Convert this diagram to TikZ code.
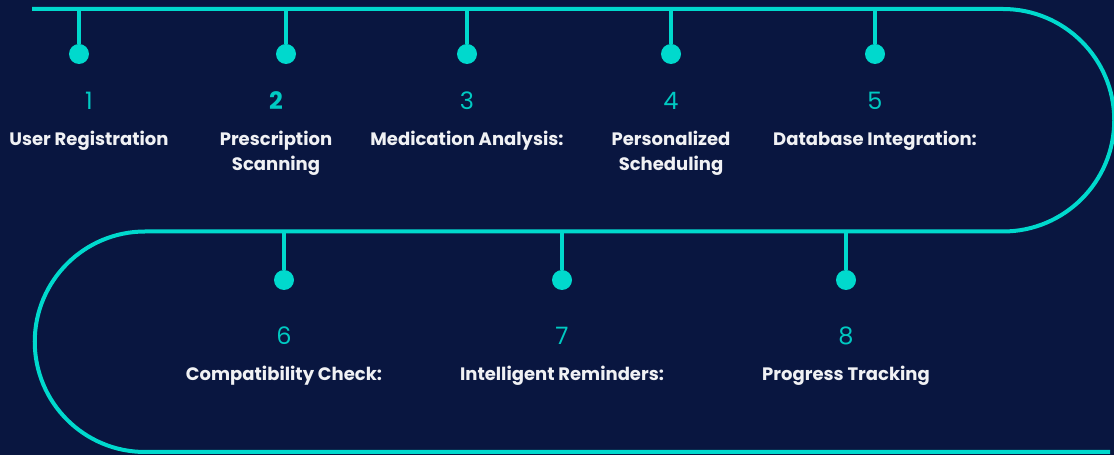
\documentclass[tikz,border=0pt]{standalone}
\usepackage{fontspec}
\setmainfont{Poppins}
\usetikzlibrary{positioning}

\definecolor{navy}{RGB}{9,22,64}
\definecolor{aqua}{RGB}{0,217,205}
\definecolor{numcol}{RGB}{0,202,194}

\tikzset{
  track/.style={draw=aqua,line width=4pt},
  stem/.style={draw=aqua,line width=4pt},
  dot/.style={circle,fill=aqua,minimum size=20pt,inner sep=0pt},
  stepnum/.style={text=numcol,font=\fontsize{24}{28}\selectfont,inner sep=0pt},
  steplabel/.style={text=white!94!navy,font=\bfseries\fontsize{18}{25}\selectfont,
    align=center,inner sep=0pt,anchor=north},
}

\begin{document}
\begin{tikzpicture}[x=1pt,y=1pt,on grid]
  \fill[navy] (0,0) rectangle (1114,455);
  \useasboundingbox (0,0) rectangle (1114,455);

  % the winding line
  \draw[track] (32,446) -- (1003,446)
    arc[start angle=90,end angle=-90,radius=111.25] -- (145,223.5)
    arc[start angle=90,end angle=270,radius=110.25] -- (1110,3);

  % top row
  \foreach \x/\dx/\n/\nf/\txt in {79/10/1//{User Registration},
      286/-10/2/\bfseries/{Prescription\\Scanning},
      467/0/3//{Medication Analysis:},
      671/0/4//{Personalized\\Scheduling},
      875/0/5//{Database Integration:}}{
    \coordinate (t\n) at (\x,446);
    \node[dot] (d\n) at (\x,401) {};
    \draw[stem] (t\n) -- (d\n);
    \node[stepnum,font=\nf\fontsize{24}{28}\selectfont] (n\n) at (\x+\dx,354) {\n};
    \node[steplabel] (l\n) at ([yshift=-30pt]n\n.center) {\txt};
  }

  % bottom row
  \foreach \x/\n/\txt in {284/6/{Compatibility Check:},
      562/7/{Intelligent Reminders:},
      846/8/{Progress Tracking}}{
    \coordinate (t\n) at (\x,223.5);
    \node[dot] (d\n) at (\x,175) {};
    \draw[stem] (t\n) -- (d\n);
    \node[stepnum] (n\n) at (\x,119) {\n};
    \node[steplabel] (l\n) at ([yshift=-30pt]n\n.center) {\txt};
  }
\end{tikzpicture}
\end{document}
